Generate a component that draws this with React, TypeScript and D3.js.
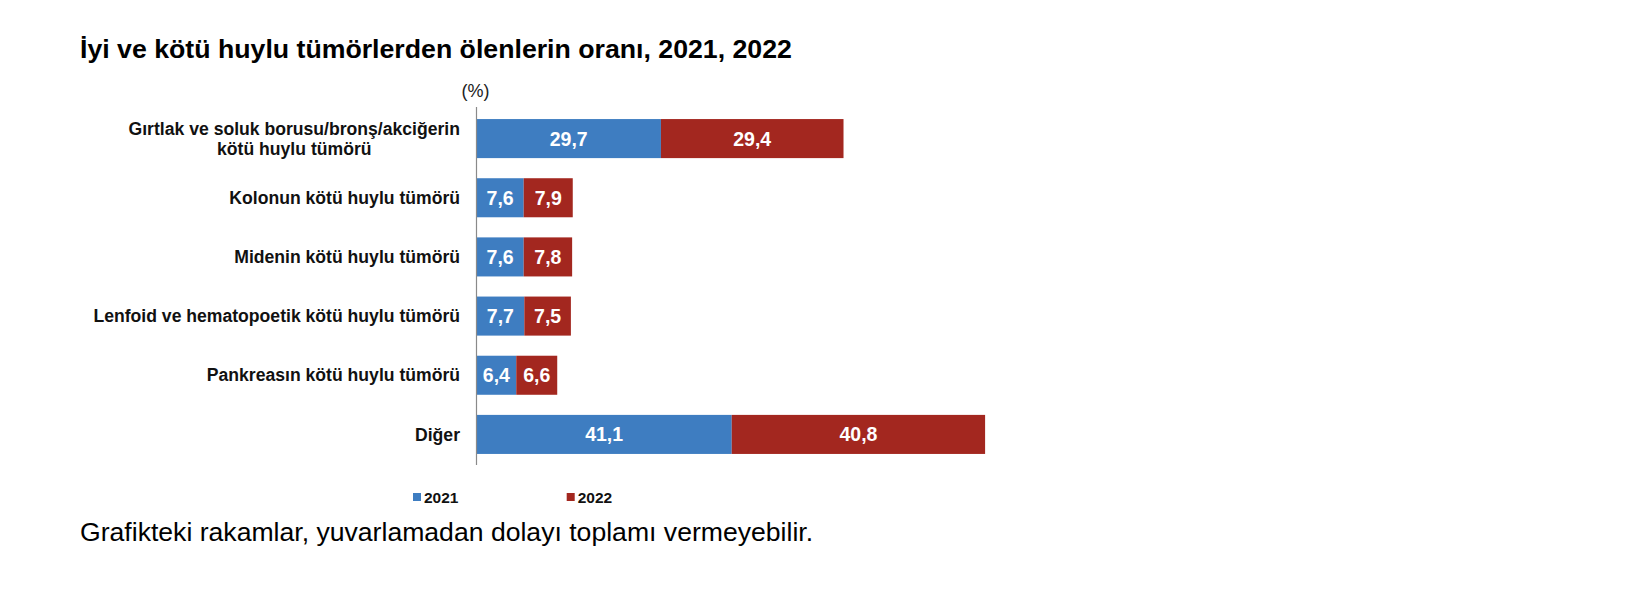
import React from 'react';
import * as d3 from 'd3';

const categories = [
  'Gırtlak ve soluk borusu/bronş/akciğerin\nkötü huylu tümörü',
  'Kolonun kötü huylu tümörü',
  'Midenin kötü huylu tümörü',
  'Lenfoid ve hematopoetik kötü huylu tümörü',
  'Pankreasın kötü huylu tümörü',
  'Diğer',
];
const values2021 = [29.7, 7.6, 7.6, 7.7, 6.4, 41.1];
const values2022 = [29.4, 7.9, 7.8, 7.5, 6.6, 40.8];
const seriesNames = ['2021', '2022'];
const colors = ['#3e7dc1', '#a3271f'];

const title = 'İyi ve kötü huylu tümörlerden ölenlerin oranı, 2021, 2022';
const unit = '(%)';
const note = 'Grafikteki rakamlar, yuvarlamadan dolayı toplamı vermeyebilir.';

const W = 1634;
const H = 592;
const font = '"Liberation Sans", Arial, sans-serif';

export default function App() {
  const x0 = 476.5;
  const xScale = d3.scaleLinear().domain([0, 100]).range([x0, x0 + 621]);
  const yScale = d3
    .scaleBand<string>()
    .domain(categories)
    .range([109, 464])
    .paddingInner(0.34)
    .paddingOuter(0.17);
  const fmt = (v: number) => v.toFixed(1).replace('.', ',');
  const labelX = 460;
  const labelSize = 17.6;

  return (
    <svg
      width={W}
      height={H}
      style={{ position: 'absolute', left: 0, top: 0, background: '#fff' }}
      fontFamily={font}
    >
      <text x={80} y={57.5} fontSize={26.7} fontWeight="bold" fill="#000">
        {title}
      </text>
      <text x={x0 - 1} y={97} fontSize={18} textAnchor="middle" fill="#222">
        {unit}
      </text>

      {categories.map((c, i) => {
        const y = yScale(c)!;
        const h = yScale.bandwidth();
        const a = values2021[i];
        const b = values2022[i];
        const lines = c.split('\n');
        const cy = y + h / 2;
        return (
          <g key={c}>
            <rect x={xScale(0)} y={y} width={xScale(a) - xScale(0)} height={h} fill={colors[0]} />
            <rect x={xScale(a)} y={y} width={xScale(a + b) - xScale(a)} height={h} fill={colors[1]} />
            <text
              x={(xScale(0) + xScale(a)) / 2}
              y={cy}
              dy="0.36em"
              textAnchor="middle"
              fontSize={19.5}
              fontWeight="bold"
              fill="#fff"
            >
              {fmt(a)}
            </text>
            <text
              x={(xScale(a) + xScale(a + b)) / 2}
              y={cy}
              dy="0.36em"
              textAnchor="middle"
              fontSize={19.5}
              fontWeight="bold"
              fill="#fff"
            >
              {fmt(b)}
            </text>
            {lines.length === 1 ? (
              <text x={labelX} y={cy} dy="0.35em" textAnchor="end" fontSize={labelSize} fontWeight="bold" fill="#111">
                {c}
              </text>
            ) : (
              <g>
                {lines.map((l, k) => (
                  <text
                    key={k}
                    x={labelX}
                    y={cy + (k - (lines.length - 1) / 2) * 20}
                    dy="0.35em"
                    textAnchor="end"
                    fontSize={labelSize}
                    fontWeight="bold"
                    fill="#111"
                    ref={(el) => {
                      // center the second line under the first one
                      if (!el || k === 0) return;
                      const first = el.previousElementSibling as SVGTextElement | null;
                      if (!first) return;
                      const w1 = first.getComputedTextLength();
                      el.setAttribute('x', String(labelX - w1 / 2));
                      el.setAttribute('text-anchor', 'middle');
                    }}
                  >
                    {l}
                  </text>
                ))}
              </g>
            )}
          </g>
        );
      })}

      <line x1={x0} x2={x0} y1={107} y2={465} stroke="#8a8a8a" strokeWidth={1.2} />

      {seriesNames.map((s, i) => (
        <g key={s} transform={`translate(${413 + i * 153.7},503)`}>
          <rect x={0} y={-10} width={8} height={8} fill={colors[i]} />
          <text x={11} y={0} fontSize={15.5} fontWeight="bold" fill="#111">
            {s}
          </text>
        </g>
      ))}

      <text x={80} y={541} fontSize={26.6} fill="#000">
        {note}
      </text>
    </svg>
  );
}
